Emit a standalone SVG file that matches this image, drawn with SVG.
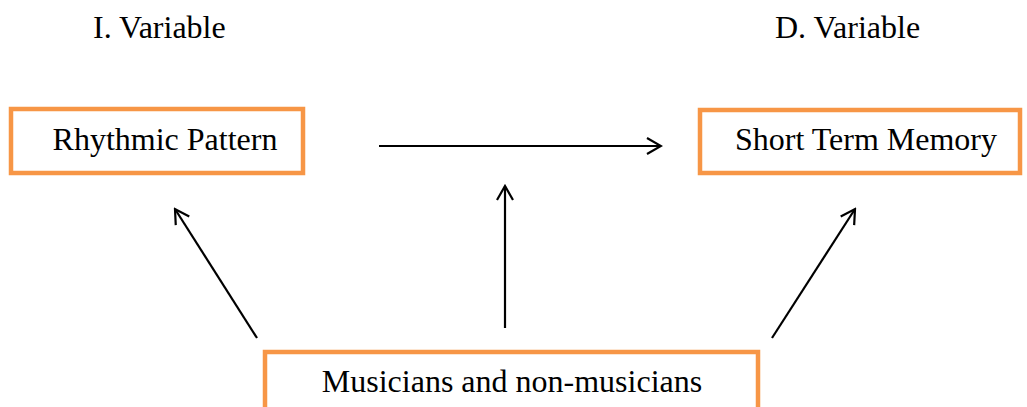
<svg xmlns="http://www.w3.org/2000/svg" width="1027" height="407" viewBox="0 0 1027 407">
<style>
.box{fill:#fff;stroke:#F79646;stroke-width:4.5}
.t{font-family:"Liberation Serif","Times New Roman",serif;font-size:32px;fill:#000}
.c{stroke:#000;stroke-width:2.2;fill:none}
</style>
<defs>
<marker id="ah" viewBox="0 0 20 20" refX="18" refY="10" markerWidth="20" markerHeight="20" markerUnits="userSpaceOnUse" orient="auto">
<path d="M4,2 L18,10 L4,18" fill="none" stroke="#000" stroke-width="2.2"/>
</marker>
</defs>
<rect width="1027" height="407" fill="#fff"/>
<text class="t" x="93" y="38">I. Variable</text>
<text class="t" x="775" y="38">D. Variable</text>
<g id="rhythmic">
<rect class="box" x="11" y="109" width="292" height="64"/>
<text class="t" x="165" y="150" text-anchor="middle">Rhythmic Pattern</text>
</g>
<g id="stm">
<rect class="box" x="700" y="110" width="320" height="63"/>
<text class="t" x="866" y="150" text-anchor="middle">Short Term Memory</text>
</g>
<g id="musicians">
<rect class="box" x="265" y="352" width="493" height="70"/>
<text class="t" x="512" y="392" text-anchor="middle">Musicians and non-musicians</text>
</g>
<g id="connectors">
<line class="c" x1="379" y1="146" x2="661" y2="146" marker-end="url(#ah)"/>
<line class="c" x1="257" y1="338" x2="175" y2="209" marker-end="url(#ah)"/>
<line class="c" x1="505" y1="328" x2="505" y2="186" marker-end="url(#ah)"/>
<line class="c" x1="772" y1="338" x2="855" y2="209" marker-end="url(#ah)"/>
</g>
</svg>
